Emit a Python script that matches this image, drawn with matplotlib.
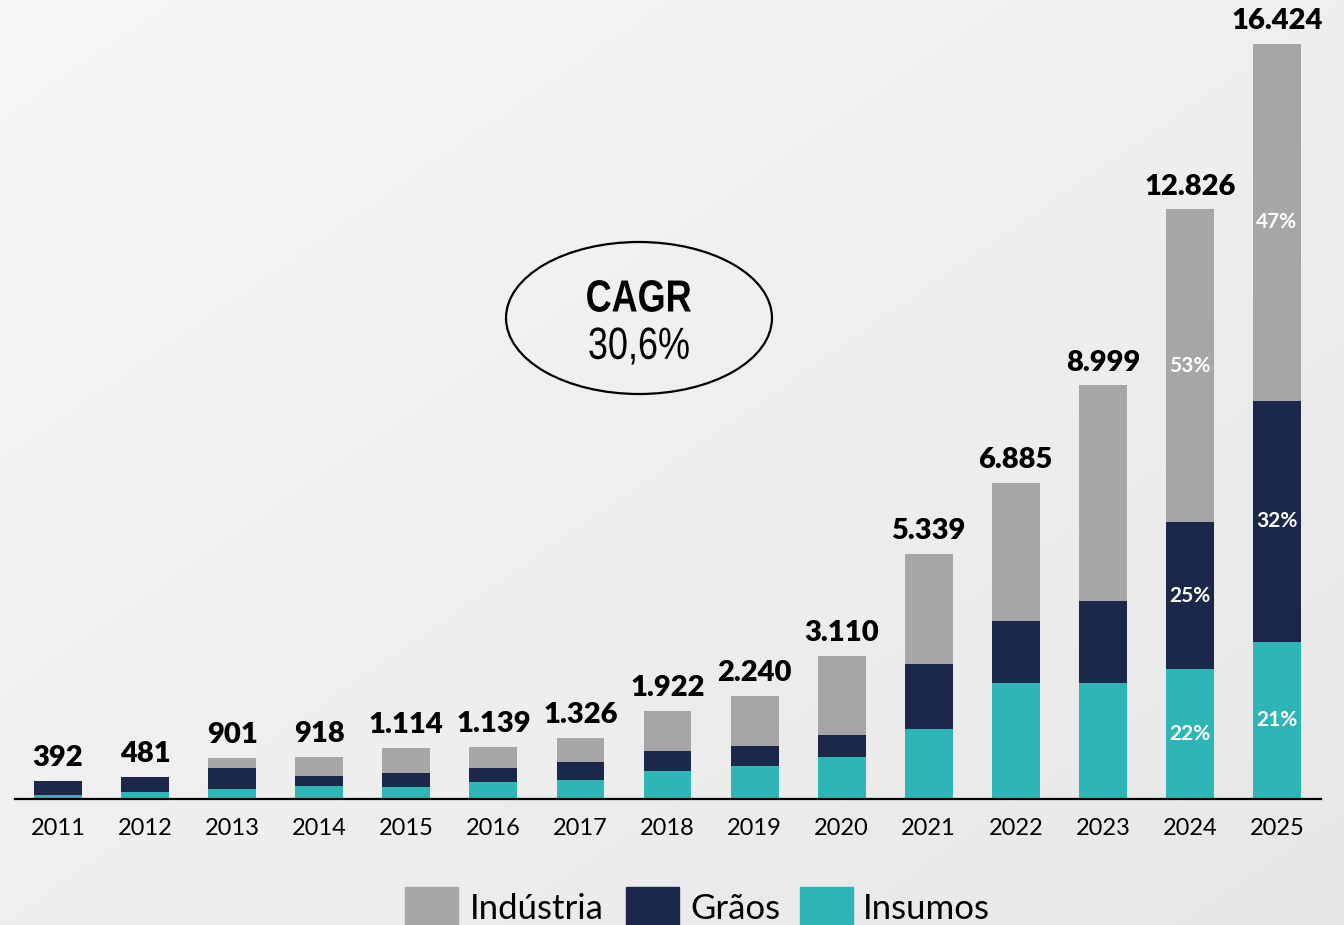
import numpy as np
import matplotlib.pyplot as plt
from matplotlib.patches import Ellipse, Rectangle, PathPatch
from matplotlib.textpath import TextPath
from matplotlib.font_manager import FontProperties
from matplotlib.transforms import Affine2D, IdentityTransform

# values (stacked: insumos at bottom, graos, industria on top)
years = ['2011', '2012', '2013', '2014', '2015', '2016', '2017', '2018',
         '2019', '2020', '2021', '2022', '2023', '2024', '2025']
totals = [392, 481, 901, 918, 1114, 1139, 1326, 1922, 2240, 3110,
          5339, 6885, 8999, 12826, 16424]
insumos = [90, 146, 225, 276, 268, 363, 407, 602, 711, 907,
           1523, 2523, 2523, 2822, 3420]
graos = [302, 335, 455, 224, 291, 318, 398, 435, 448, 479,
         1414, 1349, 1784, 3207, 5240]
industria = [t - a - b for t, a, b in zip(totals, insumos, graos)]

# share labels shown inside the last two bars
share_years = [13, 14]
share_ind = ['53%', '47%']
share_gra = ['25%', '32%']
share_ins = ['22%', '21%']

cagr = '30,6%'

c_ind = '#A6A6A6'
c_gra = '#1B284A'
c_ins = '#2EB5B5'

plt.rcParams['font.family'] = ['Lato', 'DejaVu Sans']

W, H = 1344, 925
fig = plt.figure(figsize=(W / 100, H / 100), dpi=100)

# light grey gradient background
bg = fig.add_axes([0, 0, 1, 1], zorder=-10)
gx, gy = np.meshgrid(np.linspace(0, 1, 200), np.linspace(0, 1, 200))
grad = 0.5 * gx + 0.5 * gy
bg.imshow(grad, cmap=plt.matplotlib.colors.LinearSegmentedColormap.from_list(
    'bg', ['#f7f7f7', '#e7e7e7']), extent=[0, 1, 0, 1], aspect='auto')
bg.axis('off')

ax = fig.add_axes([15 / W, (H - 799) / H, (1321 - 15) / W, 799 / H])
ax.patch.set_alpha(0)

x = np.arange(len(years))
ins = np.array(insumos)
gra = np.array(graos)
ind = np.array(industria)
bw = 0.55
ax.bar(x, ins, bw, color=c_ins, label='Insumos')
ax.bar(x, gra, bw, bottom=ins, color=c_gra, label='Grãos')
ax.bar(x, ind, bw, bottom=ins + gra, color=c_ind, label='Indústria')

ax.set_xlim(-0.494, 14.505)
ax.set_ylim(0, 799 * 16424 / 755)

for i, t in enumerate(totals):
    lab = '{:,}'.format(t).replace(',', '.')
    ax.annotate(lab, (x[i], t), xytext=(0, 7), textcoords='offset points',
                ha='center', va='bottom', fontsize=21, fontweight='heavy',
                color='black')

for k, i in enumerate(share_years):
    ax.text(x[i], ins[i] / 2, share_ins[k], ha='center', va='center',
            color='white', fontsize=15, fontweight='bold')
    ax.text(x[i], ins[i] + gra[i] / 2, share_gra[k], ha='center', va='center',
            color='white', fontsize=15, fontweight='bold')
    ax.text(x[i], ins[i] + gra[i] + ind[i] / 2, share_ind[k], ha='center',
            va='center', color='white', fontsize=15, fontweight='bold')

for s in ['top', 'right', 'left']:
    ax.spines[s].set_visible(False)
ax.spines['bottom'].set_linewidth(1.6)
ax.set_yticks([])
ax.set_xticks(x)
ax.set_xticklabels(years, fontsize=17)
ax.tick_params(axis='x', length=0, pad=14)

# CAGR bubble
fig.add_artist(Ellipse((639 / W, 1 - 318 / H), 266 / W, 152 / H,
                       transform=fig.transFigure, facecolor='none',
                       edgecolor='black', linewidth=1.6))


def narrow_text(s, cx, cy, size, weight):
    # condensed look: draw the glyph outlines squeezed horizontally
    fp = FontProperties(family='Liberation Sans', weight=weight)
    tp = TextPath((0, 0), s, size=size, prop=fp)
    bb = tp.get_extents()
    sx = 0.8
    tr = Affine2D().translate(-(bb.x0 + bb.width / 2), -(bb.y0 + bb.height / 2)) \
        .scale(sx, 1).translate(cx, H - cy)
    fig.add_artist(PathPatch(tr.transform_path(tp), transform=IdentityTransform(),
                             facecolor='black', edgecolor='none'))


narrow_text('CAGR', 639, 296, 45, 'bold')
narrow_text(cagr, 639, 346, 45, 'normal')

# legend (partly cut by the bottom edge, as in the original)
leg = [('Indústria', c_ind, 405, 470), ('Grãos', c_gra, 626, 690),
       ('Insumos', c_ins, 800, 863)]
for name, col, xs, xt in leg:
    fig.add_artist(Rectangle((xs / W, 0), 53 / W, 38 / H,
                             transform=fig.transFigure, color=col))
    fig.text(xt / W, 1 - 909 / H, name, ha='left', va='center', fontsize=25)

fig.savefig('out.png', dpi=100)
